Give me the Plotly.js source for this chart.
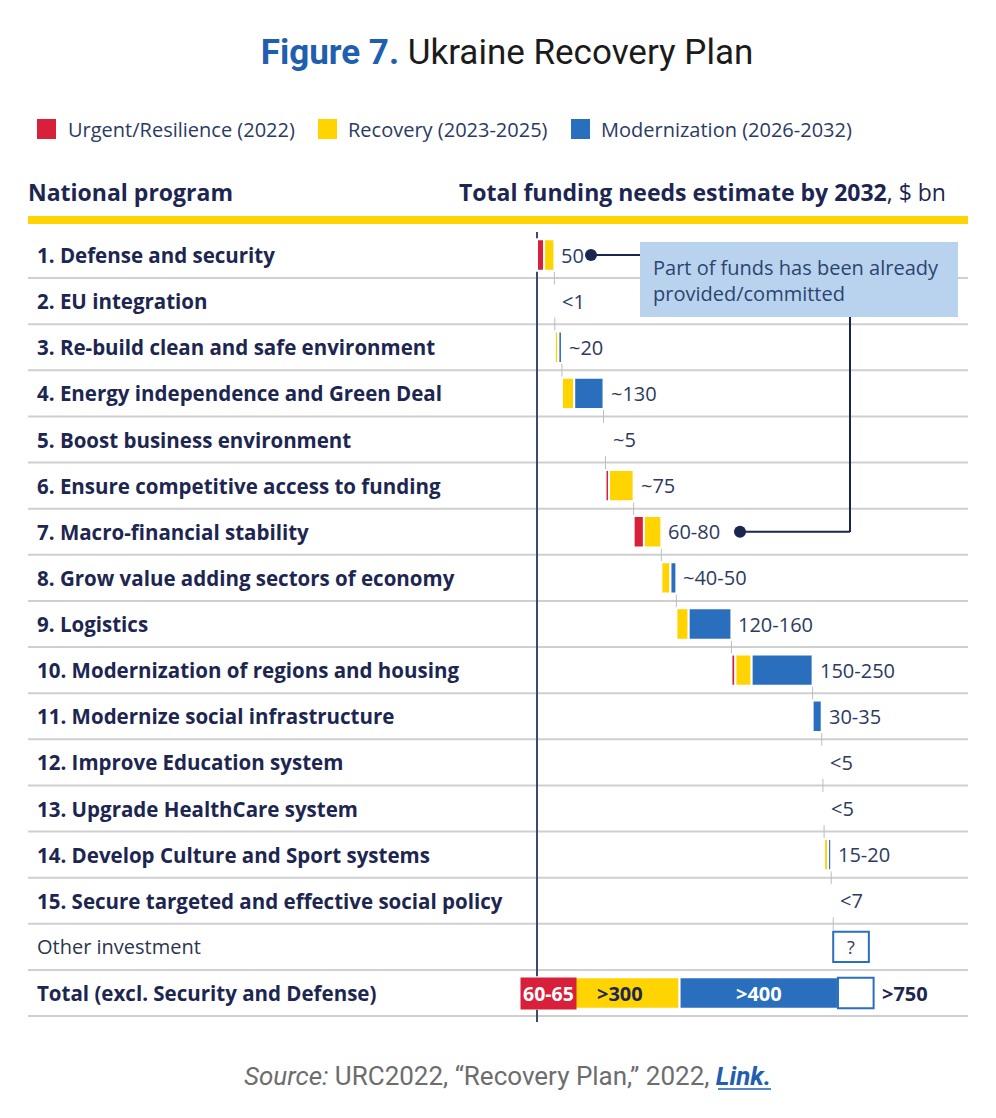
<!DOCTYPE html>
<html><head><meta charset="utf-8">
<script src="https://cdn.plot.ly/plotly-3.0.1.min.js"></script>
<style>html,body{margin:0;padding:0;background:#fff}#chart{width:996px;height:1118px}</style>
</head><body><div id="chart"></div>
<script>
// ---------------- DATA ----------------
const programs = [
  "1. Defense and security",
  "2. EU integration",
  "3. Re-build clean and safe environment",
  "4. Energy independence and Green Deal",
  "5. Boost business environment",
  "6. Ensure competitive access to funding",
  "7. Macro-financial stability",
  "8. Grow value adding sectors of economy",
  "9. Logistics",
  "10. Modernization of regions and housing",
  "11. Modernize social infrastructure",
  "12. Improve Education system",
  "13. Upgrade HealthCare system",
  "14. Develop Culture and Sport systems",
  "15. Secure targeted and effective social policy"
];
// $ bn per phase
const urgent   = [18, 0, 0,  0, 0,  9, 26,  0,   0,  10,  0, 0, 0,  0, 0];
const recovery = [26, 0, 9, 31, 0, 62, 44, 23,  31,  41,  0, 0, 0, 10, 0];
const modern   = [ 0, 0, 9, 74, 0,  0,  0, 15, 108, 154, 23, 0, 0,  8, 0];
const unsplit  = [ 0, 1, 0,  0, 5,  0,  0,  0,   0,   0,  0, 3, 3,  0, 5];
const valueLabels = ["50", "<1", "~20", "~130", "~5", "~75", "60-80", "~40-50",
  "120-160", "150-250", "30-35", "<5", "<5", "15-20", "<7"];

const otherLabel = "Other investment";
const otherNeed = 90;
const otherText = "?";

const totalLabel = "Total (excl. Security and Defense)";
const totalUrgent = 60, totalRecovery = 300, totalModern = 400;
const totalTexts = ["60-65", ">300", ">400", ">750"];

const seriesNames = ["Urgent/Resilience (2022)", "Recovery (2023-2025)", "Modernization (2026-2032)"];

// ---------------- LAYOUT CONSTANTS ----------------
const W = 996, H = 1118;
const X0 = 537, K = 0.396;      // px of zero, px per $bn
const ROW0 = 255, ROWH = 46.125; // px of first row centre, row pitch
const RED = '#d8203b', YEL = '#ffd400', BLU = '#2a6ebe', NAVY = '#1d2650', TXT = '#2c3a60';
const px = v => v / W, py = v => 1 - v / H;

const cats = programs.concat([otherLabel, totalLabel]);

// waterfall bases
let cum = 0;
const bU = [], bR = [], bM = [], ends = [];
for (let i = 0; i < programs.length; i++) {
  bU[i] = cum; cum += urgent[i];
  bR[i] = cum; cum += recovery[i];
  bM[i] = cum; cum += modern[i];
  cum += unsplit[i];
  ends[i] = cum;
}
const otherBase = cum;

function seg(vals, bases, tot, totBase) {
  const x = [], y = [], b = [];
  vals.forEach((v, i) => { if (v > 0) { x.push(v); y.push(programs[i]); b.push(bases[i]); } });
  x.push(tot); y.push(totalLabel); b.push(totBase);
  return {x, y, b};
}
const sU = seg(urgent, bU, totalUrgent, 0);
const sR = seg(recovery, bR, totalRecovery, totalUrgent);
const sM = seg(modern, bM, totalModern, totalUrgent + totalRecovery);

const barW = 0.68;
function barTrace(s, color, name) {
  return {type: 'bar', orientation: 'h', x: s.x, y: s.y, base: s.b, name: name,
    width: barW, marker: {color: color, line: {color: '#ffffff', width: 2}},
    showlegend: false, hoverinfo: 'skip'};
}
const traces = [
  barTrace(sU, RED, seriesNames[0]),
  barTrace(sR, YEL, seriesNames[1]),
  barTrace(sM, BLU, seriesNames[2]),
  {type: 'bar', orientation: 'h', name: otherLabel,
    x: [otherNeed, otherNeed], y: [otherLabel, totalLabel],
    base: [otherBase, totalUrgent + totalRecovery + totalModern],
    width: barW - 0.02, marker: {color: '#ffffff', line: {color: BLU, width: 2}},
    showlegend: false, hoverinfo: 'skip'}
];

// ---------------- ANNOTATIONS ----------------
const ann = [];
const lblFont = {family: 'Open Sans', size: 20.5, color: NAVY};
const valFont = {family: 'Open Sans', size: 20, color: TXT};
programs.forEach((p, i) => {
  ann.push({xref: 'paper', yref: 'y', x: px(35), y: p, xanchor: 'left', yanchor: 'middle',
    text: '<b>' + p + '</b>', showarrow: false, font: lblFont});
  ann.push({xref: 'x', yref: 'y', x: ends[i], y: p, xanchor: 'left', yanchor: 'middle', xshift: 5,
    text: valueLabels[i], showarrow: false, font: valFont});
});
ann.push({xref: 'paper', yref: 'y', x: px(35), y: otherLabel, xanchor: 'left', yanchor: 'middle',
  text: otherLabel, showarrow: false, font: {family: 'Open Sans', size: 20, color: '#2b3550'}});
ann.push({xref: 'x', yref: 'y', x: otherBase + otherNeed / 2, y: otherLabel, xanchor: 'center', yanchor: 'middle',
  text: otherText, showarrow: false, font: {family: 'Open Sans', size: 18, color: TXT}});
ann.push({xref: 'paper', yref: 'y', x: px(35), y: totalLabel, xanchor: 'left', yanchor: 'middle',
  text: '<b>' + totalLabel + '</b>', showarrow: false, font: lblFont});
// total row labels
ann.push({xref: 'x', yref: 'y', x: totalUrgent / 2 - 2, y: totalLabel, xanchor: 'center', yanchor: 'middle',
  text: '<b>' + totalTexts[0] + '</b>', showarrow: false, bgcolor: RED, borderpad: 2,
  font: {family: 'Open Sans', size: 19.5, color: '#ffffff'}});
ann.push({xref: 'x', yref: 'y', x: totalUrgent + totalRecovery / 2, y: totalLabel, xanchor: 'center', yanchor: 'middle',
  text: '<b>' + totalTexts[1] + '</b>', showarrow: false, font: {family: 'Open Sans', size: 20, color: NAVY}});
ann.push({xref: 'x', yref: 'y', x: totalUrgent + totalRecovery + totalModern / 2, y: totalLabel, xanchor: 'center', yanchor: 'middle',
  text: '<b>' + totalTexts[2] + '</b>', showarrow: false, font: {family: 'Open Sans', size: 20, color: '#ffffff'}});
ann.push({xref: 'x', yref: 'y', x: totalUrgent + totalRecovery + totalModern + otherNeed, y: totalLabel,
  xanchor: 'left', yanchor: 'middle', xshift: 6,
  text: '<b>' + totalTexts[3] + '</b>', showarrow: false, font: {family: 'Open Sans', size: 20, color: NAVY}});
// headers
ann.push({xref: 'paper', yref: 'paper', x: px(26), y: py(192), xanchor: 'left', yanchor: 'middle',
  text: '<b>National program</b>', showarrow: false, font: {family: 'Open Sans', size: 23, color: NAVY}});
ann.push({xref: 'paper', yref: 'paper', x: px(948), y: py(192), xanchor: 'right', yanchor: 'middle',
  text: '<b>Total funding needs estimate by 2032</b>, $ bn', showarrow: false, font: {family: 'Open Sans', size: 23, color: NAVY}});
// legend (manual)
const legX = [37, 318, 571], legTX = [66, 346, 599];
const legCol = [RED, YEL, BLU];
seriesNames.forEach((s, i) => {
  ann.push({xref: 'paper', yref: 'paper', x: px(legTX[i]), y: py(129), xanchor: 'left', yanchor: 'middle',
    text: s, showarrow: false, font: {family: 'Open Sans', size: 20, color: '#2b3a63'}});
});
// call-out box text
ann.push({xref: 'paper', yref: 'paper', x: px(651), y: py(280), xanchor: 'left', yanchor: 'middle', align: 'left',
  text: 'Part of funds has been already<br>provided/committed', showarrow: false,
  font: {family: 'Open Sans', size: 20, color: '#2c4470'}});
// source
ann.push({xref: 'paper', yref: 'paper', x: px(507), y: py(1076), xanchor: 'center', yanchor: 'middle',
  text: '<i>Source:</i> URC2022, “Recovery Plan,” 2022, <span style="color:#1f5fae"><b><i>Link.</i></b></span>',
  showarrow: false, font: {family: 'Roboto', size: 26, color: '#6d6d6d'}});

// ---------------- SHAPES ----------------
const shapes = [];
// yellow header rule
shapes.push({type: 'line', xref: 'paper', yref: 'paper', x0: px(28), x1: px(968), y0: py(220), y1: py(220),
  line: {color: YEL, width: 8}});
// row separators
for (let i = 0; i < cats.length; i++) {
  shapes.push({type: 'line', xref: 'paper', yref: 'y', x0: px(28), x1: px(968), y0: i + 0.5, y1: i + 0.5,
    line: {color: '#cfcfcf', width: 2}, layer: 'below'});
}
// waterfall connectors
for (let i = 0; i < programs.length; i++) {
  shapes.push({type: 'line', xref: 'x', yref: 'y', x0: ends[i], x1: ends[i], y0: i + 0.36, y1: i + 0.64,
    line: {color: '#bdbdbd', width: 1}, layer: 'below'});
}
// zero axis
shapes.push({type: 'line', xref: 'x', yref: 'paper', x0: 0, x1: 0, y0: py(232), y1: py(1022),
  line: {color: '#3a4a70', width: 2}, layer: 'below'});
// legend squares
legX.forEach((x, i) => {
  shapes.push({type: 'rect', xref: 'paper', yref: 'paper', x0: px(x), x1: px(x + 19), y0: py(139), y1: py(119),
    fillcolor: legCol[i], line: {width: 0}});
});
// call-out box
shapes.push({type: 'rect', xref: 'paper', yref: 'paper', x0: px(640), x1: px(958), y0: py(317), y1: py(242),
  fillcolor: '#b9d3ee', line: {width: 0}});
// pointers
shapes.push({type: 'line', xref: 'paper', yref: 'y', x0: px(591), x1: px(640), y0: 0, y1: 0,
  line: {color: '#1a2550', width: 2}});
shapes.push({type: 'line', xref: 'paper', yref: 'y', x0: px(740), x1: px(850), y0: 6, y1: 6,
  line: {color: '#1a2550', width: 2}});
shapes.push({type: 'line', xref: 'paper', yref: 'paper', x0: px(850), x1: px(850), y0: py(532), y1: py(317),
  line: {color: '#1a2550', width: 2}});
[[591, 0], [740, 6]].forEach(d => {
  shapes.push({type: 'circle', xref: 'paper', yref: 'y', xsizemode: 'pixel', ysizemode: 'pixel',
    xanchor: px(d[0]), yanchor: d[1], x0: -6, x1: 6, y0: -6, y1: 6,
    fillcolor: '#1a2550', line: {width: 0}});
});
// source link underline
shapes.push({type: 'line', xref: 'paper', yref: 'paper', x0: px(718), x1: px(771), y0: py(1089), y1: py(1089),
  line: {color: '#1f5fae', width: 1.5}});

const layout = {
  width: W, height: H, autosize: false,
  margin: {l: 0, r: 0, t: 0, b: 0, pad: 0},
  paper_bgcolor: '#ffffff', plot_bgcolor: '#ffffff',
  barmode: 'overlay', showlegend: false,
  title: {text: '<b><span style="color:#1f5fae">Figure 7.</span></b> Ukraine Recovery Plan',
    x: px(507), xanchor: 'center', xref: 'paper', y: py(52), yanchor: 'middle', yref: 'container',
    font: {family: 'Roboto', size: 35, color: '#1b1b1b'}},
  xaxis: {range: [-X0 / K, (W - X0) / K], showgrid: false, zeroline: false, showticklabels: false,
    showline: false, ticks: '', fixedrange: true},
  yaxis: {type: 'category', categoryorder: 'array', categoryarray: cats,
    range: [(H - ROW0) / ROWH, -ROW0 / ROWH], showgrid: false, zeroline: false,
    showticklabels: false, showline: false, ticks: '', fixedrange: true},
  annotations: ann, shapes: shapes
};
Plotly.newPlot('chart', traces, layout, {staticPlot: true, displayModeBar: false});
</script>
</body></html>
